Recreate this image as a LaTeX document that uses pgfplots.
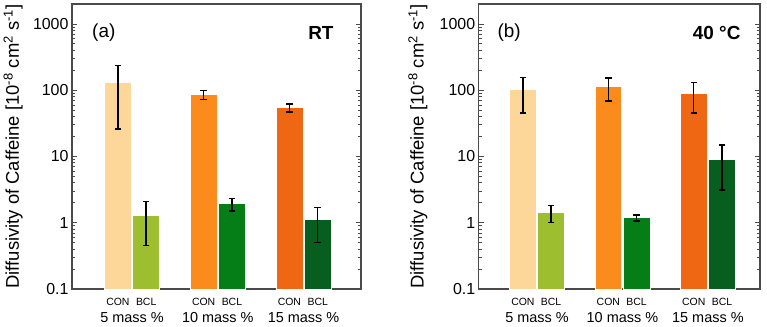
\documentclass[border=0pt]{standalone}
\usepackage{fontspec}
\setmainfont{Liberation Sans}
\usepackage{pgfplots}
\pgfplotsset{compat=1.18}
\definecolor{conA}{HTML}{FDD69A}
\definecolor{bclA}{HTML}{9DBE2E}
\definecolor{conB}{HTML}{FB8B1D}
\definecolor{bclB}{HTML}{057E17}
\definecolor{conC}{HTML}{EF6713}
\definecolor{bclC}{HTML}{075E1F}
\definecolor{axgray}{HTML}{4A4A4A}
\pgfplotsset{
  every axis/.append style={
    scale only axis, anchor=south west, height=285bp,
    ymin=0.1, ymax=2000, log origin y=infty,
    ytick={0.1,1,10,100,1000}, yticklabels={0.1,1,10,100,1000},
    minor ytick={0.2,0.3,0.4,0.5,0.6,0.7,0.8,0.9,2,3,4,5,6,7,8,9,20,30,40,50,60,70,80,90,200,300,400,500,600,700,800,900},
    yticklabel style={font=\fontsize{16}{18}\selectfont},
    major tick length=5bp, minor tick length=3bp,
    tick style={axgray, line width=0.8bp},
    axis line style={axgray, line width=1.1bp},
    xtick={0.835,1.165,1.835,2.165,2.835,3.165},
    xticklabels={CON,BCL,CON,BCL,CON,BCL},
    xticklabel style={font=\fontsize{10.5}{12}\selectfont, yshift=-1bp},
    major x tick style={draw=none},
    extra x ticks={1,2,3},
    extra x tick labels={5 mass \%,10 mass \%,15 mass \%},
    extra x tick style={xticklabel style={font=\fontsize{14.5}{16}\selectfont, yshift=-14bp}},
    ylabel style={font=\fontsize{18.5}{20}\selectfont, anchor=center},
    error bars/y dir=both, error bars/y explicit,
    error bars/error bar style={black, line width=1.4bp},
    error bars/error mark options={black, line width=1.4bp, mark size=3.2bp, rotate=90},
  },
}
\begin{document}
\begin{tikzpicture}[x=1bp,y=1bp]
\useasboundingbox (0,0) rectangle (767,326);
\begin{semilogyaxis}[ybar, bar width=0.315, bar shift=0pt, at={(72bp,37bp)}, width=289bp, xmin=0.30, xmax=3.67,
  ylabel={Diffusivity of Caffeine [10\textsuperscript{-8} cm\textsuperscript{2} s\textsuperscript{-1}]},
  ylabel style={at={(axis description cs:-0.204,0.5)}}]
\addplot[fill=conA, draw=white, line width=0.7bp, bar shift=0pt] coordinates {(0.835,132) += (0,102) -= (0,106)};
\addplot[fill=bclA, draw=white, line width=0.7bp, bar shift=0pt] coordinates {(1.165,1.29) += (0,0.79) -= (0,0.84)};
\addplot[fill=conB, draw=white, line width=0.7bp, bar shift=0pt] coordinates {(1.835,88) += (0,12) -= (0,16)};
\addplot[fill=bclB, draw=white, line width=0.7bp, bar shift=0pt] coordinates {(2.165,1.97) += (0,0.34) -= (0,0.47)};
\addplot[fill=conC, draw=white, line width=0.7bp, bar shift=0pt] coordinates {(2.835,56) += (0,6) -= (0,9)};
\addplot[fill=bclC, draw=white, line width=0.7bp, bar shift=0pt] coordinates {(3.165,1.11) += (0,0.60) -= (0,0.61)};
\node[font=\fontsize{19}{21}\selectfont] at (rel axis cs:0.11,0.898) {(a)};
\node[font=\fontsize{19}{21}\selectfont\bfseries, anchor=east] at (rel axis cs:0.917,0.898) {RT};
\end{semilogyaxis}
\begin{semilogyaxis}[ybar, bar width=0.315, bar shift=0pt, at={(478.7bp,37bp)}, width=281.3bp, xmin=0.318, xmax=3.61,
  ylabel={Diffusivity of Caffeine [10\textsuperscript{-8} cm\textsuperscript{2} s\textsuperscript{-1}]},
  ylabel style={at={(axis description cs:-0.216,0.5)}}]
\addplot[fill=conA, draw=white, line width=0.7bp, bar shift=0pt] coordinates {(0.835,102) += (0,55) -= (0,57)};
\addplot[fill=bclA, draw=white, line width=0.7bp, bar shift=0pt] coordinates {(1.165,1.44) += (0,0.37) -= (0,0.44)};
\addplot[fill=conB, draw=white, line width=0.7bp, bar shift=0pt] coordinates {(1.835,113) += (0,39) -= (0,44)};
\addplot[fill=bclB, draw=white, line width=0.7bp, bar shift=0pt] coordinates {(2.165,1.19) += (0,0.12) -= (0,0.13)};
\addplot[fill=conC, draw=white, line width=0.7bp, bar shift=0pt] coordinates {(2.835,89) += (0,42) -= (0,44)};
\addplot[fill=bclC, draw=white, line width=0.7bp, bar shift=0pt] coordinates {(3.165,9.1) += (0,5.9) -= (0,5.97)};
\node[font=\fontsize{19}{21}\selectfont] at (rel axis cs:0.108,0.898) {(b)};
\node[font=\fontsize{19}{21}\selectfont\bfseries, anchor=east] at (rel axis cs:0.943,0.898) {40 °C};
\end{semilogyaxis}
\end{tikzpicture}
\end{document}
